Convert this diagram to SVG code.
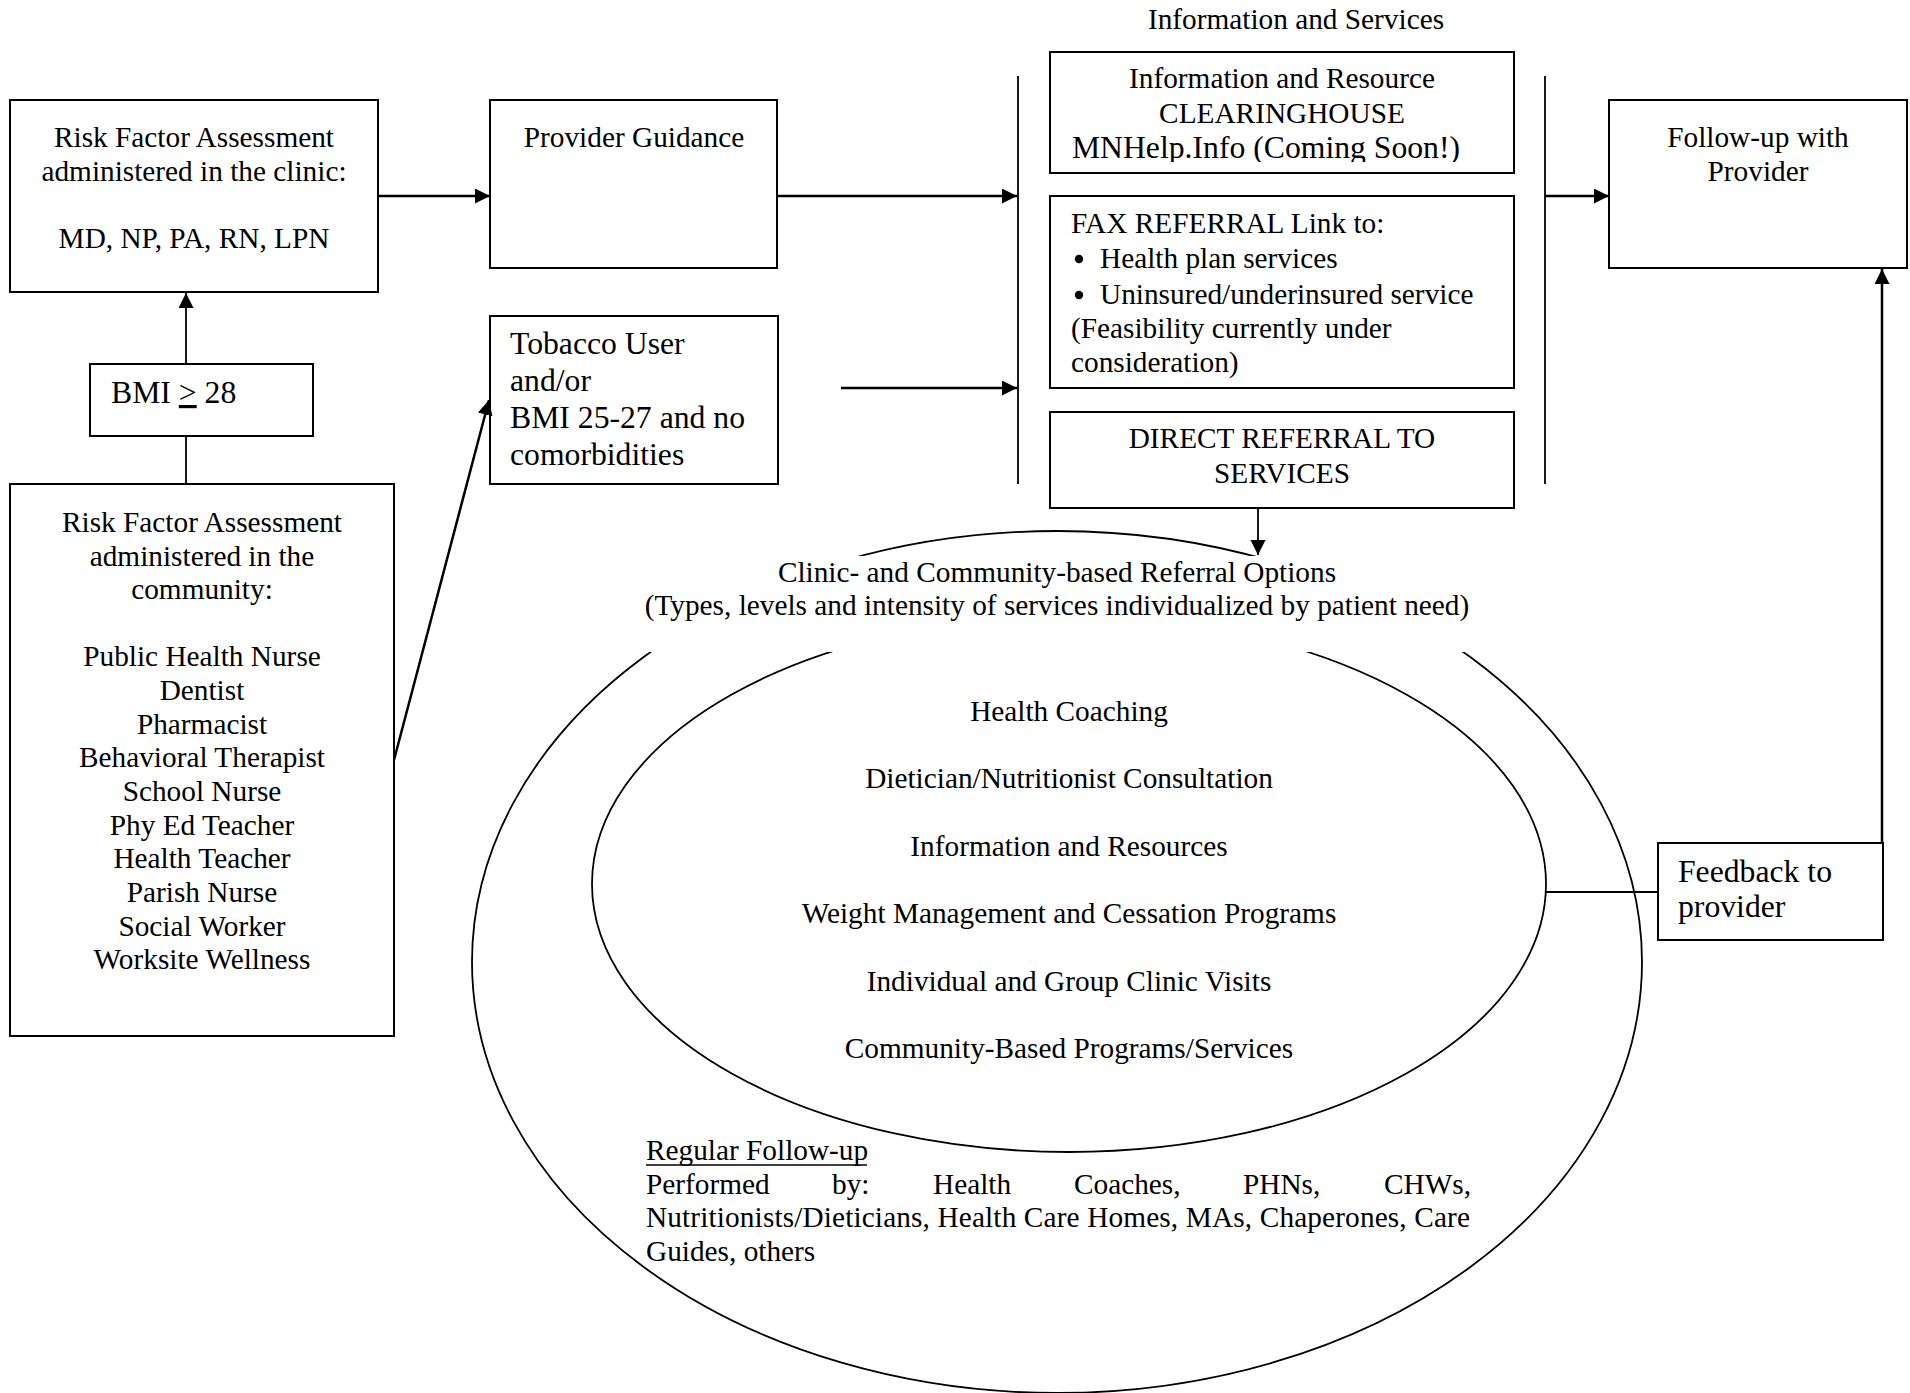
<svg xmlns="http://www.w3.org/2000/svg" width="1910" height="1393" viewBox="0 0 1910 1393">
<style>
  text { font-family: "Liberation Serif", "Times New Roman", serif; fill: #000; }
  .t { font-size: 29.3px; }
  .b { font-size: 31.7px; }
  .c { text-anchor: middle; }
  .box { fill: #fff; stroke: #000; stroke-width: 2; }
  .conn { fill: none; stroke: #000; stroke-width: 2.5; }
  .thin { fill: none; stroke: #000; stroke-width: 1.8; }
  .ell { fill: none; stroke: #000; stroke-width: 1.8; }
</style>
<defs>
  <marker id="arr" markerUnits="userSpaceOnUse" markerWidth="16" markerHeight="16" refX="15" refY="7.5" orient="auto">
    <path d="M0,0 L15,7.5 L0,15 z" fill="#000"/>
  </marker>
  <clipPath id="clipCH">
    <rect x="1050" y="53" width="463" height="109"/>
  </clipPath>
</defs>
<rect width="1910" height="1393" fill="#fff"/>

<!-- Referral options ellipses -->
<g id="outer-ellipse">
  <ellipse class="ell" cx="1057" cy="962" rx="585" ry="431"/>
</g>
<g id="inner-ellipse">
  <ellipse class="ell" cx="1069" cy="884" rx="477" ry="268"/>
  <text class="t c" x="1069" y="721">Health Coaching</text>
  <text class="t c" x="1069" y="788">Dietician/Nutritionist Consultation</text>
  <text class="t c" x="1069" y="856">Information and Resources</text>
  <text class="t c" x="1069" y="923">Weight Management and Cessation Programs</text>
  <text class="t c" x="1069" y="991">Individual and Group Clinic Visits</text>
  <text class="t c" x="1069" y="1058">Community-Based Programs/Services</text>
</g>
<g id="referral-options-title">
  <rect x="640" y="556" width="835" height="96" fill="#fff"/>
  <text class="t c" x="1057" y="582">Clinic- and Community-based Referral Options</text>
  <text class="t c" x="1057" y="615">(Types, levels and intensity of services individualized by patient need)</text>
</g>
<g id="regular-follow-up">
  <text class="t" x="646" y="1160">Regular Follow-up</text>
  <line x1="646" y1="1165" x2="867" y2="1165" stroke="#000" stroke-width="1.6"/>
  <text class="t" y="1194"><tspan x="646">Performed</tspan><tspan x="832">by:</tspan><tspan x="933">Health</tspan><tspan x="1074">Coaches,</tspan><tspan x="1243">PHNs,</tspan><tspan x="1384">CHWs,</tspan></text>
  <text class="t" x="646" y="1227" textLength="824" lengthAdjust="spacing">Nutritionists/Dieticians, Health Care Homes, MAs, Chaperones, Care</text>
  <text class="t" x="646" y="1261">Guides, others</text>
</g>

<!-- Nodes -->
<g id="clinic-assessment">
  <rect class="box" x="10" y="100" width="368" height="192"/>
  <text class="t c" x="194" y="147">Risk Factor Assessment</text>
  <text class="t c" x="194" y="181">administered in the clinic:</text>
  <text class="t c" x="194" y="248">MD, NP, PA, RN, LPN</text>
</g>
<g id="provider-guidance">
  <rect class="box" x="490" y="100" width="287" height="168"/>
  <text class="t c" x="634" y="147">Provider Guidance</text>
</g>
<g id="tobacco-user">
  <rect class="box" x="490" y="316" width="288" height="168"/>
  <text class="b" x="510" y="354">Tobacco User</text>
  <text class="b" x="510" y="391">and/or</text>
  <text class="b" x="510" y="428">BMI 25-27 and no</text>
  <text class="b" x="510" y="465">comorbidities</text>
</g>
<g id="bmi">
  <rect class="box" x="90" y="364" width="223" height="72"/>
  <text class="b" x="111" y="403">BMI <tspan text-decoration="underline">&gt;</tspan> 28</text>
</g>
<g id="community-assessment">
  <rect class="box" x="10" y="484" width="384" height="552"/>
  <text class="t c" x="202" y="532">Risk Factor Assessment</text>
  <text class="t c" x="202" y="566">administered in the</text>
  <text class="t c" x="202" y="599">community:</text>
  <text class="t c" x="202" y="666">Public Health Nurse</text>
  <text class="t c" x="202" y="700">Dentist</text>
  <text class="t c" x="202" y="734">Pharmacist</text>
  <text class="t c" x="202" y="767">Behavioral Therapist</text>
  <text class="t c" x="202" y="801">School Nurse</text>
  <text class="t c" x="202" y="835">Phy Ed Teacher</text>
  <text class="t c" x="202" y="868">Health Teacher</text>
  <text class="t c" x="202" y="902">Parish Nurse</text>
  <text class="t c" x="202" y="936">Social Worker</text>
  <text class="t c" x="202" y="969">Worksite Wellness</text>
</g>
<g id="information-and-services">
  <text class="t c" x="1296" y="29">Information and Services</text>
  <line class="thin" x1="1018" y1="76" x2="1018" y2="484"/>
  <line class="thin" x1="1545" y1="76" x2="1545" y2="484"/>
</g>
<g id="clearinghouse">
  <rect class="box" x="1050" y="52" width="464" height="121"/>
  <text class="t c" x="1282" y="88">Information and Resource</text>
  <text class="t c" x="1282" y="123">CLEARINGHOUSE</text>
  <text class="b c" x="1266" y="158" clip-path="url(#clipCH)">MNHelp.Info (Coming Soon!)</text>
</g>
<g id="fax-referral">
  <rect class="box" x="1050" y="196" width="464" height="192"/>
  <text class="t" x="1071" y="233">FAX REFERRAL Link to:</text>
  <circle cx="1079" cy="259" r="4.2" fill="#000"/>
  <text class="t" x="1100" y="268">Health plan services</text>
  <circle cx="1079" cy="295" r="4.2" fill="#000"/>
  <text class="t" x="1100" y="304">Uninsured/underinsured service</text>
  <text class="t" x="1071" y="338">(Feasibility currently under</text>
  <text class="t" x="1071" y="372">consideration)</text>
</g>
<g id="direct-referral">
  <rect class="box" x="1050" y="412" width="464" height="96"/>
  <text class="t c" x="1282" y="448">DIRECT REFERRAL TO</text>
  <text class="t c" x="1282" y="483">SERVICES</text>
</g>
<g id="follow-up">
  <rect class="box" x="1609" y="100" width="298" height="168"/>
  <text class="t c" x="1758" y="147">Follow-up with</text>
  <text class="t c" x="1758" y="181">Provider</text>
</g>
<g id="feedback">
  <rect class="box" x="1658" y="843" width="225" height="97"/>
  <text class="b" x="1678" y="882">Feedback to</text>
  <text class="b" x="1678" y="917">provider</text>
</g>

<!-- Connectors -->
<g id="connectors">
  <line class="conn" x1="378" y1="196" x2="490" y2="196" marker-end="url(#arr)"/>
  <line class="conn" x1="777" y1="196" x2="1017" y2="196" marker-end="url(#arr)"/>
  <line class="conn" x1="841" y1="388" x2="1017" y2="388" marker-end="url(#arr)"/>
  <line class="conn" x1="1545" y1="196" x2="1609" y2="196" marker-end="url(#arr)"/>
  <line class="thin" x1="186" y1="364" x2="186" y2="293" marker-end="url(#arr)"/>
  <line class="thin" x1="186" y1="436" x2="186" y2="484"/>
  <line class="conn" x1="394" y1="760" x2="489" y2="400" marker-end="url(#arr)"/>
  <line class="thin" x1="1258" y1="508" x2="1258" y2="555" marker-end="url(#arr)"/>
  <line class="thin" x1="1546" y1="892" x2="1658" y2="892"/>
  <line class="conn" x1="1882" y1="843" x2="1882" y2="269" marker-end="url(#arr)"/>
</g>
</svg>
